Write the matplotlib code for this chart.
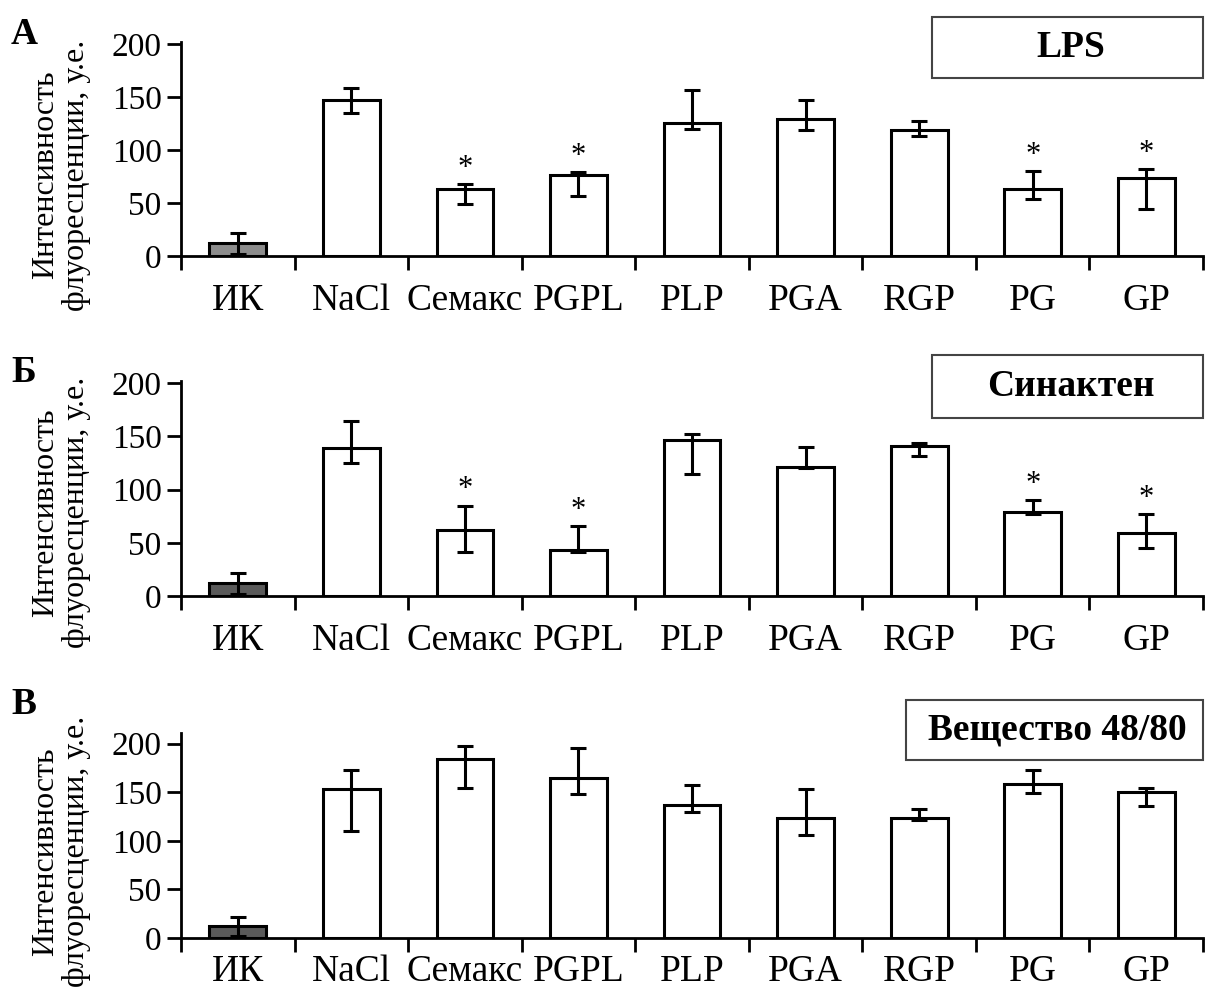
import numpy as np
import matplotlib
matplotlib.use("Agg")
import matplotlib.pyplot as plt
from matplotlib.patches import Rectangle

plt.rcParams["font.family"] = ["Liberation Serif", "DejaVu Serif"]

W, H = 1206, 989

categories = ["ИК", "NaCl", "Семакс", "PGPL", "PLP", "PGA", "RGP", "PG", "GP"]

# A - LPS
lps_mean = [12, 147, 63, 76, 126, 129, 119, 63, 74]
lps_up = [10, 12, 5, 3, 31, 18, 8, 17, 8]
lps_low = [10, 12, 14, 19, 6, 10, 6, 9, 30]
lps_stars = [0, 0, 1, 1, 0, 0, 0, 1, 1]

# Б - Синактен
syn_mean = [12, 139, 62, 43, 147, 121, 141, 79, 59]
syn_up = [10, 25, 23, 23, 5, 19, 3, 11, 18]
syn_low = [10, 14, 21, 2, 32, 1, 9, 2, 14]
syn_stars = [0, 0, 1, 1, 0, 0, 0, 1, 1]

# В - Вещество 48/80
c48_mean = [12, 153, 184, 165, 137, 123, 123, 159, 150]
c48_up = [10, 20, 14, 31, 20, 30, 10, 14, 4]
c48_low = [10, 43, 30, 17, 7, 17, 2, 10, 14]
c48_stars = [0, 0, 0, 0, 0, 0, 0, 0, 0]

panels = [
    # letter, title, data, ctrl color, (top, bottom px), ymax, title box px, letter y, label pad, ylabel shift
    ("А", "LPS", lps_mean, lps_up, lps_low, lps_stars, "#8c8c8c", (42, 256), 202, (932, 17, 1203, 78), 35, 20, 26),
    ("Б", "Синактен", syn_mean, syn_up, syn_low, syn_stars, "#5a5a5a", (381, 596), 202, (932, 355, 1203, 418), 372, 20, 24),
    ("В", "Вещество 48/80", c48_mean, c48_up, c48_low, c48_stars, "#5a5a5a", (733, 938), 211, (906, 700, 1203, 760), 705, 12, 16),
]

fig = plt.figure(figsize=(W / 100, H / 100), dpi=100)

x0, x1 = 181, 1203
x = np.arange(len(categories))

for letter, title, mean, up, low, stars, ctrl, (top, bot), ymax, box, ly, lpad, yshift in panels:
    ax = fig.add_axes([x0 / W, 1 - bot / H, (x1 - x0) / W, (bot - top) / H])
    colors = [ctrl] + ["white"] * (len(categories) - 1)
    ax.bar(x, mean, width=0.5, color=colors, edgecolor="black", linewidth=2.2, zorder=2)
    ax.errorbar(x, mean, yerr=[low, up], fmt="none", ecolor="black",
                elinewidth=2.2, capsize=6, capthick=2.2, zorder=3)
    for i, s in enumerate(stars):
        if s:
            ax.text(x[i], mean[i] + up[i] + 1, "*", ha="center", va="bottom", fontsize=22)

    ax.set_xlim(-0.5, len(categories) - 0.5)
    ax.set_ylim(0, ymax)
    ax.set_yticks([0, 50, 100, 150, 200])
    ax.set_xticks(np.arange(-0.5, len(categories), 1.0))
    ax.set_xticklabels([])
    ax.set_xticks(x, minor=True)
    ax.set_xticklabels(categories, minor=True, fontsize=27)
    ax.tick_params(axis="x", which="major", direction="out", length=10, width=2)
    ax.tick_params(axis="x", which="minor", length=0, pad=lpad)
    ax.tick_params(axis="y", direction="out", length=10, width=2, labelsize=24, pad=4)
    for side in ["top", "right"]:
        ax.spines[side].set_visible(False)
    for side in ["left", "bottom"]:
        ax.spines[side].set_linewidth(2)

    # y label and panel letter
    fig.text(61 / W, 1 - ((top + bot) / 2 + yshift) / H, "Интенсивность\nфлуоресценции, у.е.",
             rotation=90, ha="center", va="center", multialignment="center", fontsize=23,
             linespacing=1.1)
    fig.text(24 / W, 1 - ly / H, letter, ha="center", va="center", fontsize=27, fontweight="bold")

    # title box
    bx0, by0, bx1, by1 = box
    fig.add_artist(Rectangle((bx0 / W, 1 - by1 / H), (bx1 - bx0) / W, (by1 - by0) / H,
                             transform=fig.transFigure, facecolor="white",
                             edgecolor="#444444", linewidth=1.5))
    fig.text((bx0 + bx1) / 2 / W + 3 / W, 1 - (by0 + by1) / 2 / H, title, ha="center", va="center",
             fontsize=27, fontweight="bold")

plt.savefig("out.png", dpi=100)
